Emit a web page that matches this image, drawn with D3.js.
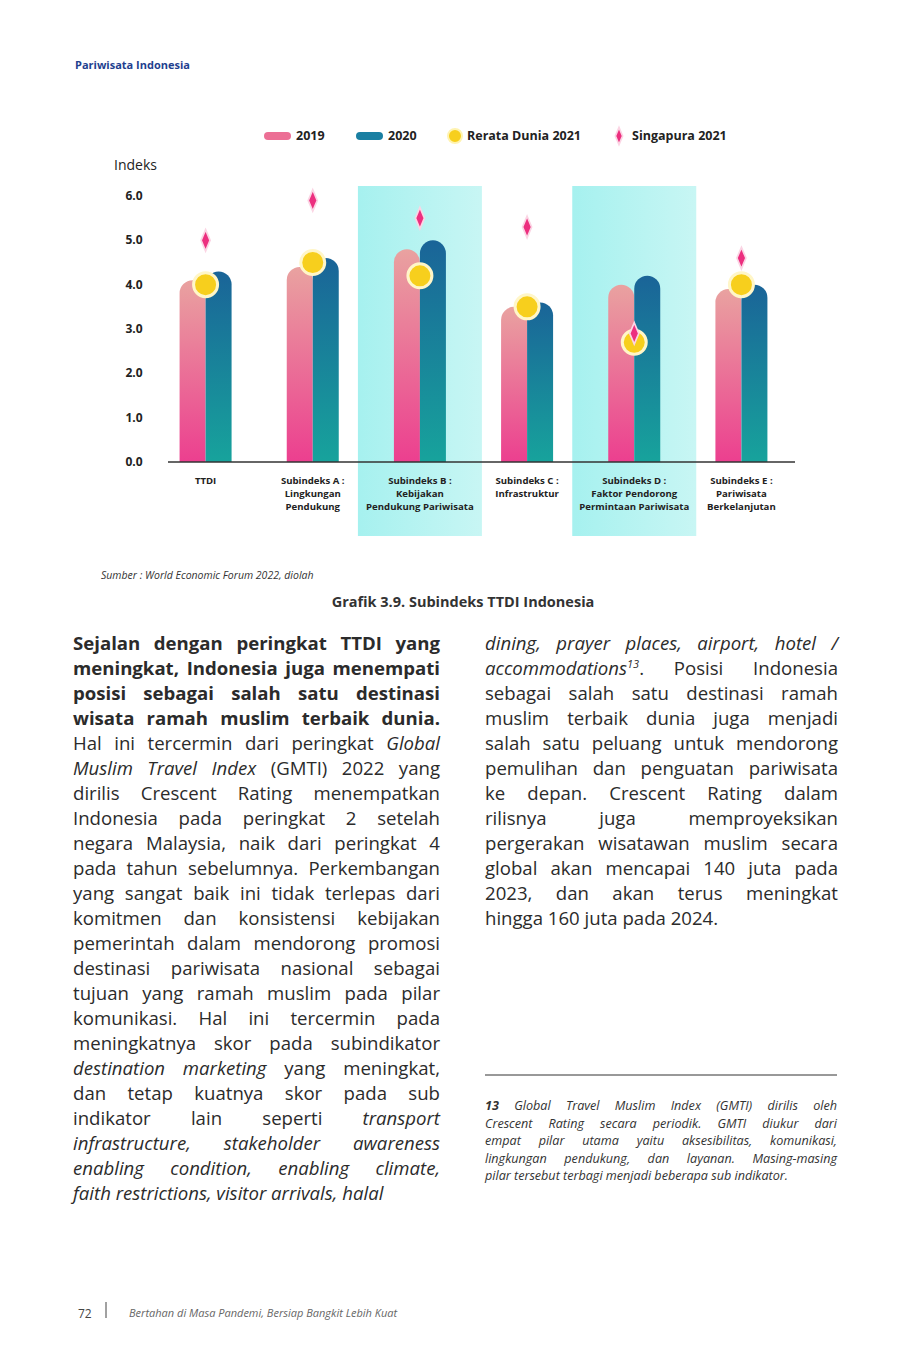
<!DOCTYPE html>
<html lang="id">
<head>
<meta charset="UTF-8">
<title>Subindeks TTDI Indonesia</title>
<script src="https://d3js.org/d3.v7.min.js"></script>
<style>
  body { margin: 0; background: #fff; font-family: "Open Sans", "Noto Sans", sans-serif; }
  #page { position: relative; width: 916px; height: 1359px; }
  svg { position: absolute; left: 0; top: 0; }
  .col { position: absolute; font-size: 18.6px; line-height: 25px; color: #2b2b2b; }
  .col div { text-align: justify; text-align-last: justify; white-space: nowrap; }
  .col div.last { text-align-last: left; }
  .fn { position: absolute; left: 485px; top: 1097px; width: 352px; font-size: 12.6px; line-height: 17.5px; font-style: italic; color: #333; }
  .fn div { text-align: justify; text-align-last: justify; white-space: nowrap; }
  .fn div.last { text-align-last: left; }
</style>
</head>
<body>
<div id="page">
  <div id="chart"></div>
  <div class="col" id="left" style="left:73px; top:630px; width:367px;"></div>
  <div class="col" id="right" style="left:485px; top:630px; width:353px;"></div>
  <div class="fn" id="fn"></div>
</div>
<script>
// data
const categories = ["TTDI", "Subindeks A :|Lingkungan|Pendukung", "Subindeks B :|Kebijakan|Pendukung Pariwisata",
  "Subindeks C :|Infrastruktur", "Subindeks D :|Faktor Pendorong|Permintaan Pariwisata", "Subindeks E :|Pariwisata|Berkelanjutan"];
const val2019 = [4.1, 4.4, 4.8, 3.5, 4.0, 3.9];
const val2020 = [4.3, 4.6, 5.0, 3.6, 4.2, 4.0];
const rerataDunia = [4.0, 4.5, 4.2, 3.5, 2.7, 4.0];
const singapura = [5.0, 5.9, 5.5, 5.3, 2.9, 4.6];
const highlighted = [2, 4];
const yTicks = [0, 1, 2, 3, 4, 5, 6];

const svg = d3.select("#chart").append("svg").attr("width", 916).attr("height", 1359);

const x = d3.scaleBand().domain(d3.range(categories.length)).range([152, 795]).paddingInner(0);
const y = d3.scaleLinear().domain([0, 6]).range([462, 196]);
const bw = 26;

const defs = svg.append("defs");
const g1 = defs.append("linearGradient").attr("id", "g2019").attr("x1", 0).attr("y1", 0).attr("x2", 0).attr("y2", 1);
g1.append("stop").attr("offset", "0%").attr("stop-color", "#e9a2a0");
g1.append("stop").attr("offset", "100%").attr("stop-color", "#ec3f8f");
const g2 = defs.append("linearGradient").attr("id", "g2020").attr("x1", 0).attr("y1", 0).attr("x2", 0).attr("y2", 1);
g2.append("stop").attr("offset", "0%").attr("stop-color", "#1a6498");
g2.append("stop").attr("offset", "100%").attr("stop-color", "#17a39c");
const gh = defs.append("linearGradient").attr("id", "ghl").attr("x1", 0).attr("y1", 0).attr("x2", 1).attr("y2", 0);
gh.append("stop").attr("offset", "0%").attr("stop-color", "#a6f1ef");
gh.append("stop").attr("offset", "100%").attr("stop-color", "#c8f6f4");

// header
svg.append("text").attr("x", 75).attr("y", 69).attr("font-size", 11).attr("font-weight", 700)
  .attr("fill", "#1f3f8f").text("Pariwisata Indonesia");

// highlight bands
svg.selectAll(".hl").data(highlighted).join("rect")
  .attr("x", i => x(i) + x.bandwidth() / 2 - 62).attr("y", 186)
  .attr("width", 124).attr("height", 350).attr("fill", "url(#ghl)");

// y axis labels
svg.selectAll(".yt").data(yTicks).join("text")
  .attr("x", 134).attr("y", d => y(d) + 4).attr("text-anchor", "middle")
  .attr("font-size", 12).attr("font-weight", 700).attr("fill", "#222")
  .text(d => d.toFixed(1));
svg.append("text").attr("x", 114).attr("y", 170).attr("font-size", 14).attr("fill", "#222").text("Indeks");

function barPath(x0, v) {
  const top = y(v), base = y(0), r = bw / 2;
  return `M${x0},${base} L${x0},${top + r} A${r},${r} 0 0 1 ${x0 + bw},${top + r} L${x0 + bw},${base} Z`;
}
const cx = i => x(i) + x.bandwidth() / 2;

svg.selectAll(".b19").data(val2019).join("path")
  .attr("d", (d, i) => barPath(cx(i) - bw, d)).attr("fill", "url(#g2019)");
svg.selectAll(".b20").data(val2020).join("path")
  .attr("d", (d, i) => barPath(cx(i), d)).attr("fill", "url(#g2020)");

// axis line
svg.append("line").attr("x1", 168).attr("x2", 795).attr("y1", y(0)).attr("y2", y(0))
  .attr("stroke", "#333").attr("stroke-width", 1.5);

// markers
svg.selectAll(".rd").data(rerataDunia).join("circle")
  .attr("cx", (d, i) => cx(i)).attr("cy", d => y(d)).attr("r", 12)
  .attr("fill", "#f7cf1d").attr("stroke", "#fff6c8").attr("stroke-width", 3);
const diamond = d3.symbol().type(d3.symbolDiamond).size(110);
svg.selectAll(".sg").data(singapura).join("path")
  .attr("transform", (d, i) => `translate(${cx(i)},${y(d)}) scale(0.8,1.1)`)
  .attr("d", diamond).attr("fill", "#ec2f7f").attr("stroke", "#fbd5e4").attr("stroke-width", 2);

// category labels
categories.forEach((c, i) => {
  const t = svg.append("text").attr("x", cx(i)).attr("y", 484).attr("text-anchor", "middle")
    .attr("font-size", 9.6).attr("font-weight", 700).attr("fill", "#222");
  c.split("|").forEach((l, k) => t.append("tspan").attr("x", cx(i)).attr("dy", k ? 13 : 0).text(l));
});

// legend
const lg = svg.append("g").attr("font-size", 12.5).attr("font-weight", 700).attr("fill", "#222");
lg.append("rect").attr("x", 264).attr("y", 132).attr("width", 27).attr("height", 8).attr("rx", 4).attr("fill", "#ec6f95");
lg.append("text").attr("x", 296).attr("y", 140).text("2019");
lg.append("rect").attr("x", 356).attr("y", 132).attr("width", 27).attr("height", 8).attr("rx", 4).attr("fill", "#1a7fa2");
lg.append("text").attr("x", 388).attr("y", 140).text("2020");
lg.append("circle").attr("cx", 455).attr("cy", 136).attr("r", 7).attr("fill", "#f7cf1d").attr("stroke", "#fff3b0").attr("stroke-width", 2);
lg.append("text").attr("x", 467).attr("y", 140).text("Rerata Dunia 2021");
lg.append("path").attr("transform", "translate(619,136) scale(0.8,1.1)").attr("d", d3.symbol().type(d3.symbolDiamond).size(70))
  .attr("fill", "#ec2f7f").attr("stroke", "#fbd5e4").attr("stroke-width", 2);
lg.append("text").attr("x", 632).attr("y", 140).text("Singapura 2021");

// source and title
svg.append("text").attr("x", 101).attr("y", 579).attr("font-size", 10.5).attr("font-style", "italic").attr("fill", "#333")
  .text("Sumber : World Economic Forum 2022, diolah");
svg.append("text").attr("x", 463).attr("y", 607).attr("text-anchor", "middle").attr("font-size", 14.5).attr("font-weight", 700)
  .attr("fill", "#333").text("Grafik 3.9. Subindeks TTDI Indonesia");

// footnote rule and footer
svg.append("line").attr("x1", 485).attr("x2", 837).attr("y1", 1075).attr("y2", 1075).attr("stroke", "#333");
svg.append("text").attr("x", 78).attr("y", 1318).attr("font-size", 12).attr("fill", "#444").text("72");
svg.append("line").attr("x1", 106).attr("x2", 106).attr("y1", 1302).attr("y2", 1318).attr("stroke", "#444");
svg.append("text").attr("x", 129).attr("y", 1317).attr("font-size", 11).attr("font-style", "italic").attr("fill", "#666")
  .text("Bertahan di Masa Pandemi, Bersiap Bangkit Lebih Kuat");

const leftLines = [
  "<b>Sejalan dengan peringkat TTDI yang</b>",
  "<b>meningkat, Indonesia juga menempati</b>",
  "<b>posisi sebagai salah satu destinasi</b>",
  "<b>wisata ramah muslim terbaik dunia.</b>",
  "Hal ini tercermin dari peringkat <i>Global</i>",
  "<i>Muslim Travel Index</i> (GMTI) 2022 yang",
  "dirilis Crescent Rating menempatkan",
  "Indonesia pada peringkat 2 setelah",
  "negara Malaysia, naik dari peringkat 4",
  "pada tahun sebelumnya. Perkembangan",
  "yang sangat baik ini tidak terlepas dari",
  "komitmen dan konsistensi kebijakan",
  "pemerintah dalam mendorong promosi",
  "destinasi pariwisata nasional sebagai",
  "tujuan yang ramah muslim pada pilar",
  "komunikasi. Hal ini tercermin pada",
  "meningkatnya skor pada subindikator",
  "<i>destination marketing</i> yang meningkat,",
  "dan tetap kuatnya skor pada sub",
  "indikator lain seperti <i>transport</i>",
  "<i>infrastructure, stakeholder awareness</i>",
  "<i>enabling condition, enabling climate,</i>",
  "<i>faith restrictions, visitor arrivals, halal</i>"
];
const rightLines = [
  "<i>dining, prayer places, airport, hotel /</i>",
  "<i>accommodations<sup style='font-size:11px;line-height:0'>13</sup></i>. Posisi Indonesia",
  "sebagai salah satu destinasi ramah",
  "muslim terbaik dunia juga menjadi",
  "salah satu peluang untuk mendorong",
  "pemulihan dan penguatan pariwisata",
  "ke depan. Crescent Rating dalam",
  "rilisnya juga memproyeksikan",
  "pergerakan wisatawan muslim secara",
  "global akan mencapai 140 juta pada",
  "2023, dan akan terus meningkat",
  "hingga 160 juta pada 2024."
];
const fnLines = [
  "<b>13</b> Global Travel Muslim Index (GMTI) dirilis oleh",
  "Crescent Rating secara periodik. GMTI diukur dari",
  "empat pilar utama yaitu aksesibilitas, komunikasi,",
  "lingkungan pendukung, dan layanan. Masing-masing",
  "pilar tersebut terbagi menjadi beberapa sub indikator."
];
function fill(sel, lines) {
  d3.select(sel).selectAll("div").data(lines).join("div")
    .attr("class", (d, i) => i === lines.length - 1 ? "last" : null).html(d => d);
}
fill("#left", leftLines);
fill("#right", rightLines);
fill("#fn", fnLines);
</script>
</body>
</html>
